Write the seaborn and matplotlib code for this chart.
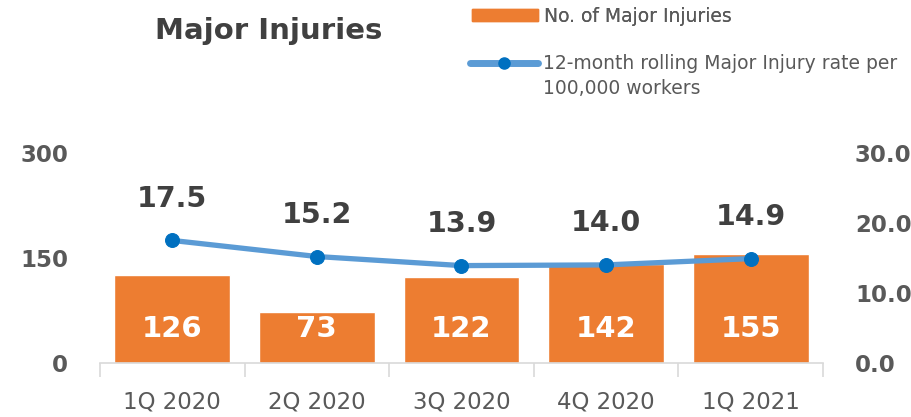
import matplotlib
matplotlib.use("Agg")
import matplotlib.pyplot as plt
import seaborn as sns
import numpy as np
import pandas as pd
from matplotlib.patches import Patch
from matplotlib.lines import Line2D
from matplotlib.ticker import FixedLocator, FormatStrFormatter

# data
quarters = ["1Q 2020", "2Q 2020", "3Q 2020", "4Q 2020", "1Q 2021"]
injuries = [126, 73, 122, 142, 155]
rate = [17.5, 15.2, 13.9, 14.0, 14.9]
left_ticks = [0, 150, 300]
right_ticks = [0.0, 10.0, 20.0, 30.0]

ORANGE = "#ED7D31"
LINE_BLUE = "#5B9BD5"
DOT_BLUE = "#0070C0"
GREY = "#595959"
DARK = "#404040"

sns.set_style("white")
plt.rcParams["font.family"] = ["DejaVu Sans"]

df = pd.DataFrame({"quarter": quarters, "injuries": injuries, "rate": rate})
pos = np.arange(len(quarters))

fig = plt.figure(figsize=(9.12, 4.17), dpi=100)
ax = fig.add_axes([0.1096, 0.130, 0.7928, 0.503])

sns.barplot(data=df, x="quarter", y="injuries", color=ORANGE, saturation=1,
            width=0.8, ax=ax)
ax.set_ylim(0, 300)
ax.set_xlim(-0.5, len(quarters) - 0.5)
ax.set_xlabel("")
ax.set_ylabel("")
ax.yaxis.set_major_locator(FixedLocator(left_ticks))
ax.tick_params(axis="y", length=0, pad=23, labelsize=16.5, labelcolor=GREY)
for t in ax.get_yticklabels():
    t.set_fontweight("bold")
ax.tick_params(axis="x", which="major", length=0, pad=20, labelsize=16.5,
               labelcolor=GREY)
# small separators between categories
ax.xaxis.set_minor_locator(FixedLocator(np.arange(len(quarters) + 1) - 0.5))
ax.tick_params(axis="x", which="minor", bottom=True, length=10, width=1.2,
               color="#D9D9D9")
for s in ["top", "left", "right"]:
    ax.spines[s].set_visible(False)
ax.spines["bottom"].set_color("#D9D9D9")
ax.spines["bottom"].set_linewidth(1.2)

# bar values inside bars
for x, v in zip(pos, injuries):
    ax.annotate(str(v), (x, 0), xytext=(0, 24), textcoords="offset points",
                ha="center", va="center", color="white", fontsize=21,
                fontweight="bold")

ax2 = ax.twinx()
sns.lineplot(x=pos, y=rate, ax=ax2, color=LINE_BLUE, linewidth=3.8,
             marker="o", markersize=10, markerfacecolor=DOT_BLUE,
             markeredgecolor=DOT_BLUE)
ax2.set_ylim(0, 30)
ax2.yaxis.set_major_locator(FixedLocator(right_ticks))
ax2.yaxis.set_major_formatter(FormatStrFormatter("%.1f"))
ax2.tick_params(axis="y", length=0, pad=23, labelsize=16.5, labelcolor=GREY)
for t in ax2.get_yticklabels():
    t.set_fontweight("bold")
for s in ax2.spines.values():
    s.set_visible(False)

for x, v in zip(pos, rate):
    ax2.annotate(f"{v:.1f}", (x, v), xytext=(0, 30), textcoords="offset points",
                 ha="center", va="center", color=DARK, fontsize=20.5,
                 fontweight="bold")

fig.text(0.170, 0.925, "Major Injuries", fontsize=21, fontweight="bold",
         color=DARK, va="center", ha="left")

# legend: two pieces so the line handle sits on the first text line
leg1 = fig.legend([Patch(facecolor=ORANGE, edgecolor=ORANGE)],
                  ["No. of Major Injuries"], loc="center left",
                  bbox_to_anchor=(472 / 912, 1 - 16 / 417), frameon=False,
                  fontsize=13.5, labelcolor=GREY, handlelength=3.5,
                  handleheight=0.65, handletextpad=0.35, borderpad=0,
                  borderaxespad=0)
fig.add_artist(leg1)
line_handle = Line2D([0], [0], color=LINE_BLUE, linewidth=5, marker="o",
                     markersize=8, markerfacecolor=DOT_BLUE,
                     markeredgecolor=DOT_BLUE, solid_capstyle="round")
blank = Line2D([0], [0], alpha=0)
fig.legend([line_handle, blank],
           ["12-month rolling Major Injury rate per", "100,000 workers"],
           loc="center left", bbox_to_anchor=(470 / 912, 1 - 76 / 417),
           frameon=False, fontsize=13.5, labelcolor=GREY, handlelength=3.6,
           handletextpad=0.3, labelspacing=0.3, borderpad=0, borderaxespad=0)

fig.savefig("out.png", dpi=100)
